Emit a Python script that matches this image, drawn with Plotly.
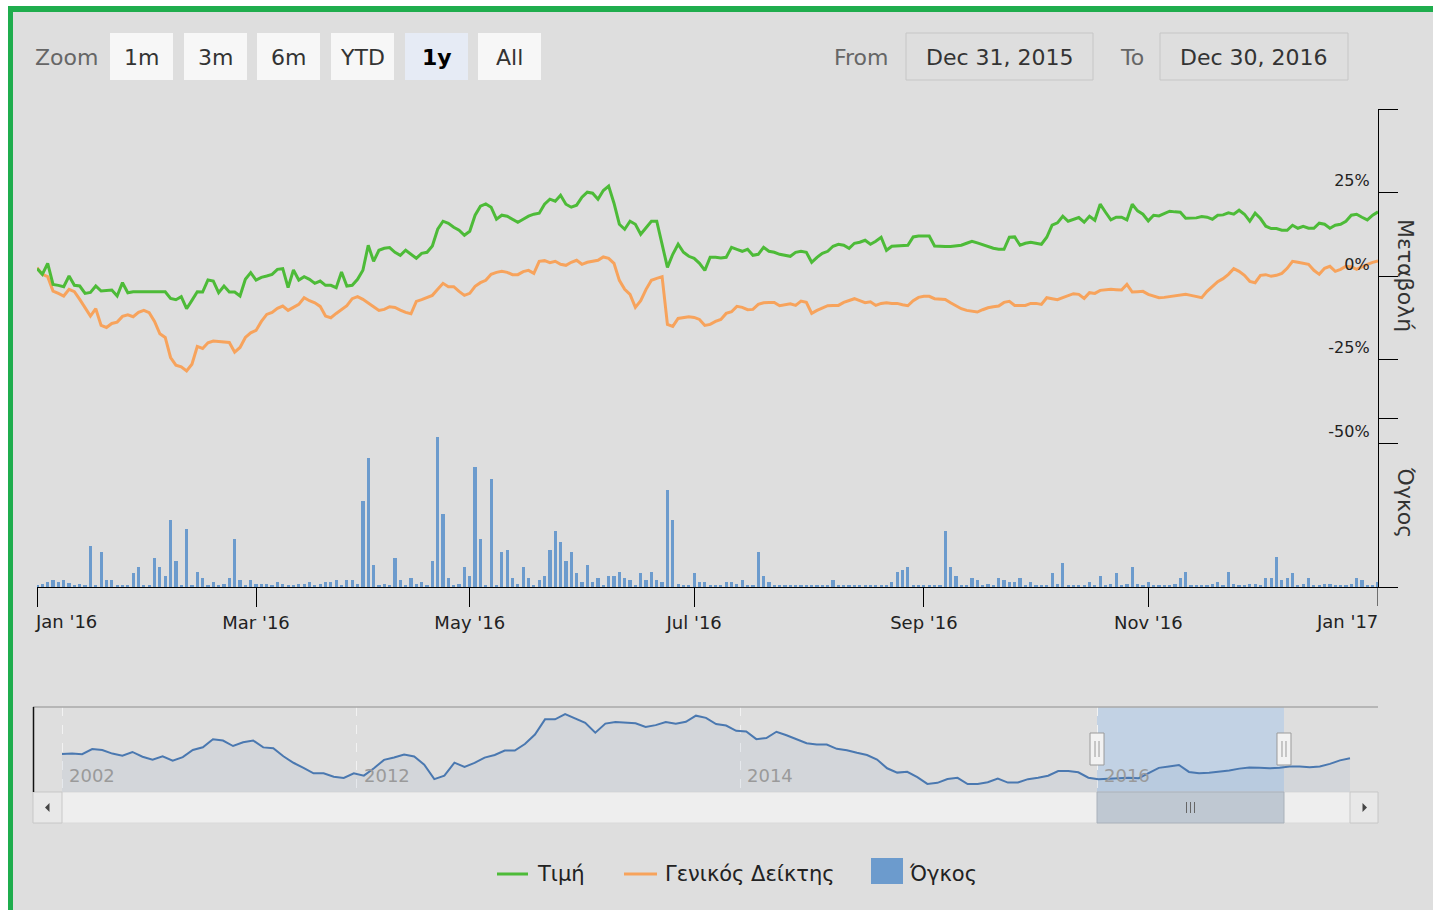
import datetime as dt
import plotly.graph_objects as go

W, H = 1433, 910
FONT = "DejaVu Sans"

# ---------------------------------------------------------------- data
# Athens Exchange closures in 2016 (besides weekends)
HOLIDAYS = ["2016-01-01", "2016-01-06", "2016-03-14", "2016-03-25", "2016-04-29",
            "2016-05-02", "2016-05-03", "2016-06-20", "2016-08-15", "2016-10-28"]
FIRST_SESSION = "2015-12-31"
LAST_SESSION = "2016-12-30"

# daily change of the share price (%), one value per session
price_change = [
    2.2, 0.5, 3.8, -2.5, -2.8, -3.2, 0.0, -2.8, -3.0, -5.2,
    -4.9, -3.0, -4.5, -4.4, -4.2, -6.0, -2.0, -5.0, -4.7, -4.7,
    -4.7, -4.7, -4.7, -4.7, -4.7, -6.7, -7.1, -6.2, -9.8, -7.3,
    -4.7, -4.8, -1.2, -1.5, -5.0, -3.0, -4.8, -4.8, -6.0, -1.0,
    1.0, -1.2, -0.4, 0.0, 0.5, 2.0, 2.2, -3.5, 1.8, -1.2,
    -0.2, -1.0, -2.2, -1.5, -2.8, -2.8, -3.5, 1.2, -3.0, -2.8,
    -1.0, 1.7, 9.2, 4.4, 7.7, 8.3, 8.5, 7.1, 6.2, 7.7,
    6.5, 5.3, 6.8, 7.1, 9.0, 14.0, 16.4, 15.8, 14.6, 13.7,
    12.2, 13.4, 18.2, 20.9, 21.6, 20.6, 17.0, 18.2, 17.9, 17.0,
    16.1, 17.0, 17.9, 18.5, 18.8, 21.5, 23.0, 22.4, 24.2, 21.5,
    20.6, 21.2, 23.6, 25.1, 24.8, 23.0, 25.6, 26.9, 21.8, 15.5,
    14.0, 16.4, 15.5, 12.5, 14.6, 16.4, 16.4, 9.5, 2.6, 6.5,
    9.5, 7.1, 5.9, 5.3, 3.8, 1.7, 5.6, 5.6, 5.4, 5.6,
    8.6, 8.0, 7.4, 8.0, 6.2, 6.5, 8.6, 7.4, 7.1, 6.5,
    6.2, 5.9, 7.1, 7.4, 7.1, 4.1, 5.6, 6.8, 7.4, 8.9,
    9.5, 9.2, 8.3, 9.8, 10.1, 10.7, 9.5, 10.4, 11.6, 7.7,
    8.9, 9.0, 9.2, 9.2, 11.7, 12.0, 12.0, 12.0, 9.0, 8.8,
    8.8, 8.8, 8.9, 9.2, 9.8, 10.4, 9.9, 9.3, 8.9, 8.3,
    8.0, 8.0, 11.6, 11.7, 9.2, 9.8, 10.1, 9.8, 9.5, 11.6,
    15.2, 15.9, 17.9, 16.4, 17.0, 17.5, 16.1, 17.9, 16.7, 21.5,
    19.1, 16.8, 17.6, 17.6, 16.8, 21.5, 19.5, 18.5, 16.5, 18.2,
    18.0, 18.8, 19.4, 19.2, 19.1, 17.3, 17.3, 17.4, 17.8, 17.6,
    17.0, 18.2, 18.3, 18.9, 18.5, 19.7, 18.5, 16.4, 18.8, 17.2,
    14.9, 14.2, 14.2, 13.7, 13.7, 15.2, 14.3, 14.9, 14.3, 14.3,
    15.8, 15.5, 14.3, 15.2, 15.5, 16.4, 18.2, 18.5, 17.6, 16.8,
    18.2, 19.2,
]

# change of the general index (%), one value per session
index_change = [
    2.5, 0.5, -0.2, -4.5, -5.2, -6.0, -4.0, -4.7, -7.0, -9.4,
    -12.0, -9.8, -14.8, -15.4, -14.2, -13.8, -12.1, -11.6, -12.2, -10.9,
    -10.3, -11.0, -13.6, -17.3, -18.4, -24.4, -26.7, -27.2, -28.4, -26.4,
    -21.1, -21.7, -20.0, -19.5, -19.6, -19.8, -19.9, -22.8, -21.4, -18.4,
    -17.0, -16.3, -13.6, -11.5, -10.9, -9.7, -9.0, -10.3, -9.5, -8.5,
    -6.5, -7.4, -8.0, -9.1, -12.0, -12.5, -11.2, -10.1, -8.9, -6.8,
    -6.2, -7.0, -8.2, -9.2, -10.3, -10.0, -9.2, -9.4, -10.2, -10.9,
    -11.3, -7.6, -7.1, -6.5, -5.8, -4.0, -2.2, -3.2, -3.2, -4.6,
    -5.8, -5.2, -3.1, -2.0, -1.3, 0.5, 1.1, 1.4, 1.1, 0.4,
    0.4, 1.3, 1.7, 0.8, 4.4, 4.6, 4.0, 4.4, 3.5, 3.2,
    4.1, 4.7, 3.5, 4.1, 4.4, 4.7, 5.7, 5.3, 3.8, -1.3,
    -4.0, -5.5, -9.4, -7.4, -4.0, -1.3, -0.7, -0.2, -14.5, -15.1,
    -12.7, -12.4, -12.2, -12.4, -13.0, -14.8, -14.5, -13.6, -13.0, -11.2,
    -10.7, -9.1, -9.4, -10.1, -10.0, -8.5, -8.0, -7.9, -7.9, -8.9,
    -8.5, -8.3, -8.8, -7.5, -7.9, -11.2, -10.3, -9.5, -8.9, -8.8,
    -8.8, -7.9, -7.3, -6.8, -7.4, -8.0, -7.7, -8.8, -8.2, -8.0,
    -8.2, -8.2, -8.6, -8.9, -7.4, -6.4, -6.1, -6.1, -6.8, -6.8,
    -7.0, -8.0, -8.9, -9.8, -10.3, -10.6, -10.8, -10.1, -9.5, -9.2,
    -9.0, -7.9, -7.6, -8.8, -8.9, -8.8, -8.2, -8.2, -8.5, -6.5,
    -6.8, -7.1, -6.5, -5.9, -5.3, -5.5, -6.7, -5.0, -5.2, -4.3,
    -4.1, -4.0, -4.1, -4.2, -2.5, -4.8, -4.7, -4.6, -5.5, -5.9,
    -6.5, -6.4, -6.2, -6.1, -5.8, -5.5, -5.8, -6.1, -6.5, -4.6,
    -3.1, -1.7, -0.8, 0.5, 2.2, 1.4, 0.2, -1.6, -2.0, 0.2,
    0.4, -0.1, 0.2, 0.8, 2.3, 4.4, 4.1, 3.7, 3.5, 1.7,
    0.5, 2.3, 2.9, 1.4, 2.0, 2.9, 2.8, 2.0, 2.8, 3.5,
    4.1, 4.5,
]

# traded volume per session (relative units, 100 = top of the volume pane)
volume = [
    0.6, 1.6, 2.8, 4.1, 2.8, 4.1, 2.2, 0.6, 1.6, 0.6,
    24.4, 0.6, 20.5, 4.1, 4.1, 0.6, 0.6, 0.6, 8.1, 11.7,
    0.6, 0.6, 17.0, 11.7, 6.7, 39.6, 15.6, 0.6, 34.5, 0.8,
    9.1, 5.5, 0.6, 2.8, 0.6, 1.6, 5.5, 28.4, 4.1, 0.6,
    4.1, 1.6, 1.6, 1.6, 0.6, 2.8, 1.6, 0.6, 0.6, 1.6,
    1.6, 2.8, 0.6, 1.6, 2.8, 2.8, 4.1, 0.6, 4.1, 4.1,
    1.6, 51.1, 76.5, 13.0, 0.6, 1.6, 0.6, 17.0, 4.1, 0.6,
    5.5, 1.6, 2.8, 0.6, 15.6, 88.9, 43.2, 5.5, 0.6, 1.6,
    11.7, 6.7, 71.2, 28.4, 0.6, 63.7, 0.6, 20.5, 21.9, 5.5,
    1.6, 11.7, 5.5, 0.6, 4.1, 6.7, 21.9, 33.3, 26.8, 15.6,
    20.5, 8.1, 2.8, 13.0, 2.8, 5.5, 0.6, 6.7, 6.7, 9.1,
    5.5, 4.1, 0.6, 8.1, 4.1, 9.1, 4.1, 2.8, 57.4, 39.6,
    1.6, 0.6, 0.6, 8.1, 2.8, 2.8, 0.6, 0.6, 0.6, 2.8,
    2.8, 1.6, 4.1, 0.6, 0.6, 20.5, 6.7, 2.8, 0.6, 0.6,
    0.6, 0.6, 0.6, 0.6, 0.6, 0.6, 0.6, 0.6, 0.6, 4.1,
    0.6, 0.6, 0.6, 0.6, 0.6, 0.6, 0.6, 0.6, 0.6, 0.6,
    2.8, 9.1, 10.1, 11.7, 0.6, 0.6, 0.6, 0.6, 0.6, 0.6,
    33.3, 11.7, 6.7, 0.6, 0.6, 5.5, 4.1, 0.6, 1.6, 0.6,
    5.5, 4.1, 2.8, 2.8, 5.5, 0.6, 2.8, 0.6, 0.6, 0.6,
    8.1, 1.6, 14.4, 0.6, 0.6, 0.6, 0.6, 2.8, 0.6, 6.7,
    0.6, 1.6, 8.1, 0.6, 1.6, 11.7, 1.6, 0.6, 2.8, 0.6,
    0.6, 0.6, 0.6, 1.6, 5.5, 9.1, 0.6, 0.6, 0.6, 0.6,
    1.6, 2.8, 0.6, 9.1, 1.6, 0.6, 0.6, 1.6, 1.6, 0.6,
    5.5, 5.5, 17.9, 4.1, 5.5, 8.1, 0.6, 1.6, 5.5, 0.6,
    0.6, 1.6, 1.6, 0.6, 0.6, 0.6, 1.6, 5.5, 4.1, 0.6,
    0.6, 2.8,
]

# month ticks of the main time axis (placed on trading sessions)
month_tick_dates = ["2015-12-31", "2016-03-01", "2016-04-28", "2016-07-01",
                    "2016-09-01", "2016-11-01", "2016-12-30"]
month_tick_labels = ["Jan '16", "Mar '16", "May '16", "Jul '16",
                     "Sep '16", "Nov '16", "Jan '17"]

# long price history shown in the navigator (equally spaced samples, relative level)
history_level = [
    44.7, 45.3, 44.5, 50.5, 49.4, 45.2, 42.7, 47.1, 41.5, 38.1,
    42.1, 36.8, 41.1, 49.4, 52.6, 62.0, 60.5, 54.1, 58.5, 60.6,
    52.5, 51.6, 42.0, 34.4, 28.5, 22.0, 22.0, 18.0, 16.6, 22.0,
    19.2, 27.9, 37.8, 40.5, 44.1, 41.8, 32.2, 15.1, 19.3, 34.5,
    29.4, 34.2, 40.5, 43.6, 48.7, 48.8, 56.5, 67.6, 85.5, 85.5,
    91.6, 86.4, 81.4, 69.8, 80.5, 82.4, 81.2, 80.8, 76.4, 78.7,
    82.2, 80.2, 82.6, 89.8, 87.2, 80.0, 78.2, 72.0, 71.1, 62.2,
    63.5, 70.9, 66.8, 62.5, 57.3, 55.8, 55.8, 50.8, 49.1, 46.1,
    43.5, 38.2, 27.9, 22.8, 23.8, 17.4, 9.5, 10.8, 15.3, 16.7,
    9.4, 9.4, 11.4, 15.8, 11.1, 11.2, 15.1, 16.7, 19.2, 24.7,
    24.7, 23.2, 16.8, 15.1, 15.8, 16.8, 16.9, 16.2, 22.7, 28.4,
    30.0, 31.8, 23.6, 22.2, 22.7, 24.0, 25.3, 27.5, 28.8, 28.4,
    27.9, 28.6, 29.9, 30.0, 29.2, 30.1, 33.1, 37.2, 39.6,
]
history_year_samples = [0, 29.3, 67.4, 102.9]
history_year_labels = ["2002", "2012", "2014", "2016"]
selected_window = (102.86, 121.44)   # navigator samples covered by the shown year

zoom_buttons = ["1m", "3m", "6m", "YTD", "1y", "All"]
active_button = "1y"
range_from, range_to = "Dec 31, 2015", "Dec 30, 2016"

legend_names = ["Τιμή", "Γενικός Δείκτης", "Όγκος"]

PRICE_COLOR = "#4DBB38"
INDEX_COLOR = "#F7A35C"
VOLUME_COLOR = "#6C9BCD"
NAV_COLOR = "#4A78B0"
BG = "#DEDEDE"
GREEN_FRAME = "#1FAD4D"
TICK_FONT = dict(family=FONT, size=18, color="#222222")


def trading_sessions(first, last, closed):
    closed = {dt.date.fromisoformat(d) for d in closed}
    day, end = dt.date.fromisoformat(first), dt.date.fromisoformat(last)
    out = []
    while day <= end:
        if day.weekday() < 5 and day not in closed:
            out.append(day.isoformat())
        day += dt.timedelta(days=1)
    return out


sessions = trading_sessions(FIRST_SESSION, LAST_SESSION, HOLIDAYS)
assert len(sessions) == len(price_change) == len(index_change) == len(volume)


# ---------------------------------------------------------------- helpers (pixel layout -> paper)
def px(x):
    return x / W


def py(y):
    return 1 - y / H


def rect(x0, y0, x1, y1, fill, line=None, width=1, layer="below"):
    return dict(type="rect", xref="paper", yref="paper", x0=px(x0), x1=px(x1),
                y0=py(y0), y1=py(y1), fillcolor=fill, layer=layer,
                line=dict(color=line or "rgba(0,0,0,0)", width=width if line else 0))


def hline(x0, x1, y, color, width):
    return dict(type="line", xref="paper", yref="paper", x0=px(x0), x1=px(x1),
                y0=py(y), y1=py(y), line=dict(color=color, width=width))


def vline(x, y0, y1, color, width):
    return dict(type="line", xref="paper", yref="paper", x0=px(x), x1=px(x),
                y0=py(y0), y1=py(y1), line=dict(color=color, width=width))


def text(t, x, y, size, color="#333333", anchor="left", angle=0):
    return dict(text=t, x=px(x), y=py(y), xref="paper", yref="paper",
                xanchor=anchor, yanchor="middle", showarrow=False, textangle=angle,
                font=dict(family=FONT, size=size, color=color))


# ---------------------------------------------------------------- traces
fig = go.Figure()

fig.add_trace(go.Bar(
    x=sessions, y=volume, xaxis="x", yaxis="y2", name=legend_names[2],
    marker=dict(color=VOLUME_COLOR, line=dict(width=0)),
    width=0.6 * 86400000, showlegend=False))

fig.add_trace(go.Scatter(
    x=sessions, y=index_change, xaxis="x", yaxis="y", mode="lines",
    name=legend_names[1], line=dict(color=INDEX_COLOR, width=3), showlegend=False))

fig.add_trace(go.Scatter(
    x=sessions, y=price_change, xaxis="x", yaxis="y", mode="lines",
    name=legend_names[0], line=dict(color=PRICE_COLOR, width=3), showlegend=False))

fig.add_trace(go.Scatter(
    x=list(range(len(history_level))), y=history_level, xaxis="x3", yaxis="y3",
    mode="lines", line=dict(color=NAV_COLOR, width=2), fill="tozeroy",
    fillcolor="rgba(69,114,167,0.07)", showlegend=False, hoverinfo="skip"))

# ---------------------------------------------------------------- axes
nav_step = (1350 - 62) / (len(history_level) - 1)
nav_range = [(33 - 62) / nav_step, (1378 - 62) / nav_step]

# edge labels are kept inside the plot width (left / right aligned to their ticks)
inner_tick_text = [""] + month_tick_labels[1:-1] + [""]

fig.update_layout(
    width=W, height=H, margin=dict(l=0, r=0, t=0, b=0, autoexpand=False),
    paper_bgcolor=BG, plot_bgcolor="rgba(0,0,0,0)",
    font=dict(family=FONT, color="#333333"),
    bargap=0,
    xaxis=dict(
        domain=[px(37), px(1378)], anchor="y2", type="date", automargin=False,
        range=[FIRST_SESSION, LAST_SESSION],
        rangebreaks=[dict(bounds=["sat", "mon"]), dict(values=HOLIDAYS)],
        tickmode="array", tickvals=month_tick_dates, ticktext=inner_tick_text,
        ticks="outside", ticklen=19, tickcolor="black", tickwidth=1,
        showline=True, linecolor="black", linewidth=1,
        showgrid=False, zeroline=False, tickfont=TICK_FONT,
    ),
    yaxis=dict(
        domain=[py(443), py(109)], anchor="x", side="right", range=[-50, 50],
        automargin=False,
        tickmode="array", tickvals=[-50, -25, 0, 25, 50],
        ticktext=["-50%", "-25%", "0%", "25%", ""],
        ticklabelposition="inside top", ticklabelstandoff=8,
        ticks="outside", ticklen=19, tickcolor="black", tickwidth=1,
        showline=True, linecolor="black", linewidth=1,
        showgrid=False, zeroline=False,
        tickfont=dict(family=FONT, size=16, color="#222222"),
    ),
    yaxis2=dict(
        domain=[py(587), py(418)], anchor="x", side="right", range=[0, 100],
        automargin=False,
        tickmode="array", tickvals=[0, 100], showticklabels=False,
        ticks="outside", ticklen=19, tickcolor="black", tickwidth=1,
        showline=True, linecolor="black", linewidth=1,
        showgrid=False, zeroline=False,
    ),
    xaxis3=dict(
        domain=[px(33), px(1378)], anchor="y3", range=nav_range, automargin=False,
        tickmode="array", tickvals=history_year_samples, showticklabels=False,
        ticks="", showgrid=True, gridcolor="#F2F2F2", gridwidth=1, griddash="dash",
        showline=False, zeroline=False, fixedrange=True,
    ),
    yaxis3=dict(
        domain=[py(792), py(707)], anchor="x3", range=[0, 100], visible=False,
        fixedrange=True,
    ),
)

shapes = []
annotations = []

# first / last month labels and the closing tick of the time axis
annotations.append(dict(text=month_tick_labels[0], x=month_tick_dates[0], xref="x",
                        y=py(621), yref="paper", xanchor="left", yanchor="middle",
                        xshift=-4, showarrow=False, font=TICK_FONT))
annotations.append(dict(text=month_tick_labels[-1], x=month_tick_dates[-1], xref="x",
                        y=py(621), yref="paper", xanchor="right", yanchor="middle",
                        xshift=2, showarrow=False, font=TICK_FONT))
shapes.append(dict(type="line", xref="x", yref="paper", x0=month_tick_dates[-1],
                   x1=month_tick_dates[-1], y0=py(587), y1=py(606),
                   line=dict(color="black", width=1)))

# page frame: white margin and green border
shapes.append(rect(0, 0, W, 6, "white", layer="above"))
shapes.append(rect(0, 0, 8, H, "white", layer="above"))
shapes.append(rect(8, 6, W, 12, GREEN_FRAME, layer="above"))
shapes.append(rect(8, 6, 13, H, GREEN_FRAME, layer="above"))

# range selector
annotations.append(text("Zoom", 33, 57, 22, "#666666"))
button_lefts = [110, 184, 257, 331, 405, 478]
for label, left in zip(zoom_buttons, button_lefts):
    active = label == active_button
    shapes.append(rect(left, 33, left + 63, 80, "#E6EBF5" if active else "#F7F7F7"))
    annotations.append(text(f"<b>{label}</b>" if active else label, left + 31.5, 57, 22,
                            "#000000" if active else "#333333", anchor="center"))

annotations.append(text("From", 891, 57, 22, "#666666", anchor="right"))
shapes.append(rect(906, 33, 1093, 80, "rgba(0,0,0,0)", line="#C6C6C6"))
annotations.append(text(range_from, 999.5, 57, 22, "#333333", anchor="center"))
annotations.append(text("To", 1146, 57, 22, "#666666", anchor="right"))
shapes.append(rect(1160, 33, 1348, 80, "rgba(0,0,0,0)", line="#C6C6C6"))
annotations.append(text(range_to, 1254, 57, 22, "#333333", anchor="center"))

# axis titles
annotations.append(text("Μεταβολή", 1406, 275, 22, "#333333", anchor="center", angle=90))
annotations.append(text("Όγκος", 1406, 502, 22, "#333333", anchor="center", angle=90))

# navigator frame
shapes.append(hline(33, 1378, 707, "#A8A8A8", 1.5))
shapes.append(vline(33.5, 707, 792, "#111111", 1.5))
shapes.append(dict(type="rect", xref="x3", yref="paper",
                   x0=selected_window[0], x1=selected_window[1], y0=py(792), y1=py(707),
                   fillcolor="rgba(160,195,235,0.45)", line=dict(width=0), layer="below"))
for pos, year in zip(history_year_samples, history_year_labels):
    annotations.append(dict(text=year, x=pos, xref="x3", y=py(775), yref="paper",
                            xanchor="left", yanchor="middle", xshift=5, showarrow=False,
                            font=dict(family=FONT, size=18, color="#9A9A9A")))

# scrollbar
shapes.append(rect(33, 792, 1378, 823, "#EEEEEE", line="#DADADA"))
shapes.append(rect(33, 792, 62, 823, "#E8E8E8", line="#C8C8C8"))
shapes.append(rect(1350, 792, 1378, 823, "#E8E8E8", line="#C8C8C8"))
shapes.append(dict(type="path", xref="paper", yref="paper", fillcolor="#444444",
                   line=dict(width=0),
                   path=f"M {px(45)},{py(807.5)} L {px(49.5)},{py(803)} L {px(49.5)},{py(812)} Z"))
shapes.append(dict(type="path", xref="paper", yref="paper", fillcolor="#444444",
                   line=dict(width=0),
                   path=f"M {px(1367)},{py(807.5)} L {px(1362.5)},{py(803)} L {px(1362.5)},{py(812)} Z"))
shapes.append(dict(type="rect", xref="x3", yref="paper",
                   x0=selected_window[0], x1=selected_window[1], y0=py(823), y1=py(792),
                   fillcolor="#BFC8D2", line=dict(color="#A9B1BA", width=1)))
thumb_mid = sum(selected_window) / 2
for dx in (-4, 0, 4):
    shapes.append(dict(type="line", xref="x3", yref="paper", xsizemode="pixel",
                       xanchor=thumb_mid, x0=dx, x1=dx, y0=py(802), y1=py(813),
                       line=dict(color="#666666", width=1)))

# navigator handles
for edge in selected_window:
    shapes.append(dict(type="rect", xref="x3", yref="paper", xsizemode="pixel",
                       xanchor=edge, x0=-7, x1=7, y0=py(765), y1=py(733),
                       fillcolor="#F2F2F2", line=dict(color="#9A9A9A", width=1)))
    for dx in (-2, 2):
        shapes.append(dict(type="line", xref="x3", yref="paper", xsizemode="pixel",
                           xanchor=edge, x0=dx, x1=dx, y0=py(741), y1=py(757),
                           line=dict(color="#9A9A9A", width=1)))

# legend
shapes.append(hline(497, 528, 874, PRICE_COLOR, 3))
annotations.append(text(legend_names[0], 535, 874, 21, "#222222"))
shapes.append(hline(624, 657, 874, INDEX_COLOR, 3))
annotations.append(text(legend_names[1], 663, 874, 21, "#222222"))
shapes.append(rect(871, 858, 903, 884, VOLUME_COLOR, layer="above"))
annotations.append(text(legend_names[2], 907, 874, 21, "#222222"))

fig.update_layout(shapes=shapes, annotations=annotations)
fig.write_html("out.html")
